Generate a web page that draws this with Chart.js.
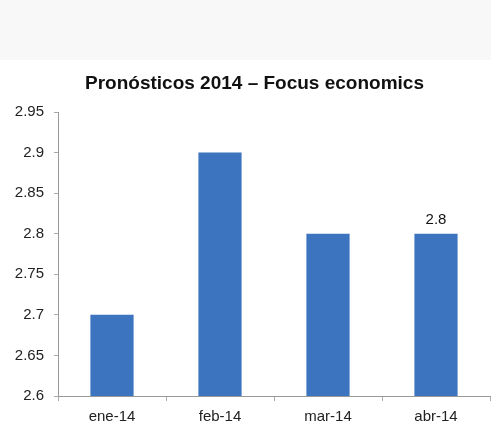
<!DOCTYPE html>
<html>
<head>
<meta charset="utf-8">
<script src="https://cdn.jsdelivr.net/npm/chart.js@4"></script>
<style>
  html, body { margin: 0; padding: 0; background: #ffffff; }
  #wrap { width: 491px; height: 433px; position: relative; }
</style>
</head>
<body>
<div id="wrap"><canvas id="c" width="491" height="433"></canvas></div>
<script>
const titleText = 'Pronósticos 2014 – Focus economics';
const categories = ['ene-14', 'feb-14', 'mar-14', 'abr-14'];
const values = [2.7, 2.9, 2.8, 2.8];
const labeledBars = [3];
const yTickLabels = ['2.6', '2.65', '2.7', '2.75', '2.8', '2.85', '2.9', '2.95'];
const yMin = 2.6, yMax = 2.95, yStep = 0.05;

const FONT = '"Liberation Sans", Arial, sans-serif';

const bgPlugin = {
  id: 'bg',
  beforeDraw(chart) {
    const ctx = chart.ctx;
    ctx.save();
    ctx.fillStyle = '#ffffff';
    ctx.fillRect(0, 0, chart.width, chart.height);
    ctx.fillStyle = '#f8f8f8';
    ctx.fillRect(0, 0, chart.width, 60);
    ctx.restore();
  }
};

const titlePlugin = {
  id: 'customTitle',
  afterDraw(chart) {
    const ctx = chart.ctx;
    ctx.save();
    ctx.font = 'bold 19px ' + FONT;
    ctx.fillStyle = '#111111';
    ctx.textAlign = 'center';
    ctx.textBaseline = 'middle';
    ctx.fillText(titleText, chart.width / 2 + 9, 84);
    ctx.restore();
  }
};

const valueLabelPlugin = {
  id: 'valueLabels',
  afterDatasetsDraw(chart) {
    const ctx = chart.ctx;
    const meta = chart.getDatasetMeta(0);
    ctx.save();
    ctx.font = '15px ' + FONT;
    ctx.fillStyle = '#111111';
    ctx.textAlign = 'center';
    ctx.textBaseline = 'alphabetic';
    labeledBars.forEach(i => {
      const bar = meta.data[i];
      ctx.fillText(String(values[i]), bar.x, bar.y - 10);
    });
    ctx.restore();
  }
};

new Chart(document.getElementById('c'), {
  type: 'bar',
  data: {
    labels: categories,
    datasets: [{
      data: values,
      backgroundColor: '#3d74c0',
      borderWidth: 0,
      categoryPercentage: 0.8,
      barPercentage: 0.5
    }]
  },
  options: {
    responsive: false,
    animation: false,
    layout: { padding: { top: 112, right: 1, left: 0, bottom: 0 } },
    plugins: {
      legend: { display: false },
      title: { display: false },
      tooltip: { enabled: false }
    },
    scales: {
      x: {
        grid: {
          display: true,
          drawOnChartArea: false,
          drawTicks: true,
          tickLength: 5,
          color: '#aaaaaa',
          offset: true
        },
        border: { color: '#999999', width: 1 },
        ticks: {
          color: '#222222',
          font: { family: FONT, size: 15 },
          padding: 7
        },
        afterFit(scale) { scale.height = 37; }
      },
      y: {
        min: yMin,
        max: yMax,
        grid: {
          display: true,
          drawOnChartArea: false,
          drawTicks: true,
          tickLength: 4,
          color: '#aaaaaa'
        },
        border: { color: '#999999', width: 1 },
        ticks: {
          stepSize: yStep,
          color: '#222222',
          font: { family: FONT, size: 15 },
          padding: 10,
          callback(value) {
            const idx = Math.round((value - yMin) / yStep);
            return yTickLabels[idx];
          }
        },
        afterFit(scale) { scale.width = 58; }
      }
    }
  },
  plugins: [bgPlugin, titlePlugin, valueLabelPlugin]
});
</script>
</body>
</html>
